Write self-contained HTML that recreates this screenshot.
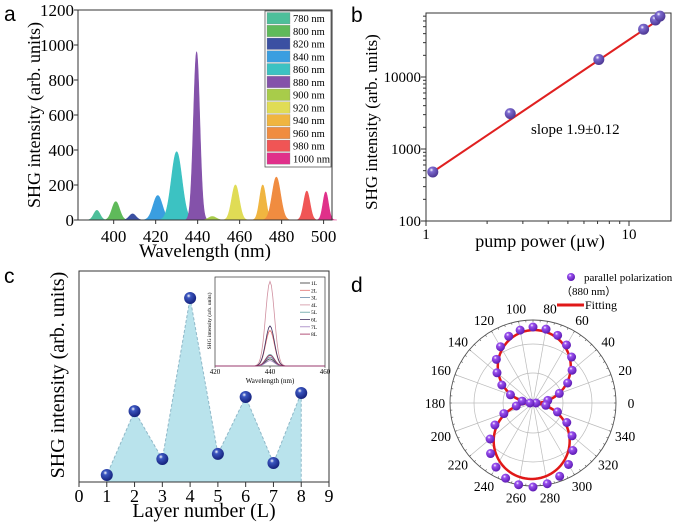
<!DOCTYPE html>
<html><head><meta charset="utf-8"><style>
body{margin:0;background:#fff}
svg{display:block;font-family:"Liberation Serif",serif}
svg text{font-family:"Liberation Serif",serif}
svg text.lt{font-family:"Liberation Sans",sans-serif;font-size:21px}
</style></head><body>
<svg id="fig" width="675" height="523" viewBox="0 0 675 523" font-family="Liberation Serif, serif">
<text class="lt" x="4" y="21">a</text>
<text class="lt" x="351" y="22">b</text>
<text class="lt" x="4" y="283">c</text>
<text class="lt" x="351" y="292">d</text>
<g id="pa"></g>
<g id="pb"></g>
<g id="pc"></g>
<g id="pd"></g>
</svg>
<script>
// ---------- Panel a data ----------
const aPumps=["780 nm","800 nm","820 nm","840 nm","860 nm","880 nm","900 nm","920 nm","940 nm","960 nm","980 nm","1000 nm"];
const aCenters=[392,401,409,421,430,439.5,447,458,471,477.5,492,501];
const aHeights=[55,105,35,140,390,960,20,200,200,245,165,160];
const aWidths=[1.5,1.8,1.6,2.2,2.5,1.5,1.8,1.8,1.5,2.0,1.5,1.3];
const aColors=["#4dbf9a","#5fba5a","#3b50a2","#3a9ee0","#3cc2c2","#8452aa","#a8cc4a","#e0dc55","#f0b540","#f08c40","#f05555","#e0308a"];
const aXTicks=[400,420,440,460,480,500];
const aYTicks=[0,200,400,600,800,1000,1200];
// ---------- Panel b data ----------
const bPower=[1.08,2.6,7.1,11.8,13.5,14.2];
const bIntensity=[480,3100,17500,46000,62000,70000];
const bFitX=[1.05,14.6];
const bSlope=1.9;
const bYTicks=[100,1000,10000];
const bXTicks=[1,10];
// ---------- Panel c data ----------
const cLayers=[1,2,3,4,5,6,7,8];
const cValues=[0.033,0.336,0.109,0.872,0.133,0.403,0.090,0.422];
const cXTicks=[0,1,2,3,4,5,6,7,8,9];
const cInsetLabels=["1L","2L","3L","4L","5L","6L","7L","8L"];
const cInsetHeights=[0.08,0.40,0.10,0.95,0.13,0.45,0.06,0.12];
const cInsetColors=["#333333","#e07070","#6a8aa8","#d090a0","#60a0a0","#403060","#a080c0","#a02858"];
// ---------- Panel d data ----------
const dAngles=[0,10,20,30,40,50,60,70,80,90,100,110,120,130,140,150,160,170,180,190,200,210,220,230,240,250,260,270,280,290,300,310,320,330,340,350];
const dValues=[3,15,28,40,51,60,67,72,75,76,74,71,65,57,47,36,24,11,3,17,31,44,56,66,74,80,83,84,82,78,71,62,51,39,26,13];
const dFitAmp=[73,76];
const dFitCenter=[88,268];
const dAngleTicks=[0,20,40,60,80,100,120,140,160,180,200,220,240,260,280,300,320,340];

const NS="http://www.w3.org/2000/svg";
function mk(parent,tag,attrs,text){const e=document.createElementNS(NS,tag);for(const k in attrs)e.setAttribute(k,attrs[k]);if(text!==undefined)e.textContent=text;parent.appendChild(e);return e;}
const defs=mk(document.getElementById('fig'),'defs',{});
function grad(id,c1,c2){const g=mk(defs,'radialGradient',{id:id,cx:'0.38',cy:'0.32',r:'0.7'});mk(g,'stop',{offset:'0','stop-color':'#ffffff'});mk(g,'stop',{offset:'0.25','stop-color':c1});mk(g,'stop',{offset:'1','stop-color':c2});}
grad('gb','#7d6bd0','#4b3590');grad('gc','#3b56c0','#14207a');grad('gd','#9a50f0','#5a18b0');

// ---------- Panel a ----------
(function(){
const g=document.getElementById('pa');
const L=78,R=332,T=10,B=220,x0=383,x1=504;
const xs=v=>L+(v-x0)/(x1-x0)*(R-L), ys=v=>B-v/1200*(B-T);
for(let i=0;i<aCenters.length;i++){
 let d='M'+xs(aCenters[i]-4*aWidths[i])+','+B;
 for(let k=-40;k<=40;k++){const w=aCenters[i]+k*aWidths[i]/10;const v=aHeights[i]*Math.exp(-0.5*Math.pow((w-aCenters[i])/aWidths[i],2));d+=' L'+xs(w).toFixed(2)+','+ys(v).toFixed(2);}
 d+=' L'+xs(aCenters[i]+4*aWidths[i])+','+B+'Z';
 const p=mk(g,'path',{d:d,fill:aColors[i],stroke:aColors[i],'stroke-width':0.6});
 
 
}
const f=mk(g,'rect',{x:L,y:T,width:R-L,height:B-T,fill:'none',stroke:'#333','stroke-width':1});

aXTicks.forEach(t=>{mk(g,'line',{x1:xs(t),x2:xs(t),y1:B,y2:B+4,stroke:'#333'});const tx=mk(g,'text',{x:xs(t),y:B+22,'text-anchor':'middle','font-size':17},t);});
aYTicks.forEach(t=>{mk(g,'line',{x1:L-4,x2:L,y1:ys(t),y2:ys(t),stroke:'#333'});const tx=mk(g,'text',{x:L-4,y:ys(t)+6,'text-anchor':'end','font-size':17},t);});
const xt=mk(g,'text',{x:205,y:257,'text-anchor':'middle','font-size':19},'Wavelength (nm)');
const yt=mk(g,'text',{x:0,y:0,'text-anchor':'middle','font-size':18,transform:'translate(40,115) rotate(-90)'},'SHG intensity (arb. units)');
const lg=mk(g,'g',{});
mk(lg,'rect',{x:265,y:11,width:66,height:156,fill:'#fff',stroke:'#555','stroke-width':0.8});
aPumps.forEach((n,i)=>{const y=12+i*12.75;const r=mk(lg,'rect',{x:267,y:y+0.5,width:23,height:11.5,fill:aColors[i],stroke:'#888','stroke-width':0.3});const t=mk(lg,'text',{x:293,y:y+10,'font-size':10.5},n);});
})();

// ---------- Panel b ----------
(function(){
const g=document.getElementById('pb');
const L=426,R=671,T=13,B=221;
const xs=v=>L+Math.log10(v)*203, ys=v=>B-(Math.log10(v)-2)*72;
mk(g,'rect',{x:L,y:T,width:R-L,height:B-T,fill:'none',stroke:'#333'});
for(let dcd=0;dcd<2;dcd++)for(let m=1;m<=9;m++){const v=m*Math.pow(10,dcd);const x=xs(v);if(x>R)break;mk(g,'line',{x1:x,x2:x,y1:B,y2:B+(m==1?5:3),stroke:'#333'});}
for(let dcd=2;dcd<5;dcd++)for(let m=1;m<=9;m++){const v=m*Math.pow(10,dcd);const y=ys(v);if(y<T)break;mk(g,'line',{x1:L-(m==1?5:3),x2:L,y1:y,y2:y,stroke:'#333'});}
bYTicks.forEach(t=>{const tx=mk(g,'text',{x:L-5,y:ys(t)+5,'text-anchor':'end','font-size':15},t);});
bXTicks.forEach(t=>{const tx=mk(g,'text',{x:xs(t),y:B+18,'text-anchor':'middle','font-size':15},t);});
const a0=bIntensity[0]/Math.pow(bPower[0],bSlope);
const fl=mk(g,'line',{x1:xs(bFitX[0]),y1:ys(a0*Math.pow(bFitX[0],bSlope)),x2:xs(bFitX[1]),y2:ys(a0*Math.pow(bFitX[1],bSlope)),stroke:'#e02020','stroke-width':2});

bPower.forEach((p,i)=>{const c=mk(g,'circle',{cx:xs(p),cy:ys(bIntensity[i]),r:5.5,fill:'url(#gb)'});});
const s=mk(g,'text',{x:531,y:134,'font-size':15},'slope 1.9±0.12');
const xt=mk(g,'text',{x:540,y:247,'text-anchor':'middle','font-size':18},'pump power (μw)');
const yt=mk(g,'text',{x:0,y:0,'text-anchor':'middle','font-size':17,transform:'translate(377,122) rotate(-90)'},'SHG intensity (arb. units)');
})();

// ---------- Panel c ----------
(function(){
const g=document.getElementById('pc');
const L=79,R=329,T=271,B=482;
const xs=v=>L+v/9*(R-L), ys=v=>B-v*(B-T);
let d='M'+xs(cLayers[0])+','+B;
cLayers.forEach((l,i)=>d+=' L'+xs(l)+','+ys(cValues[i]));
d+=' L'+xs(cLayers[cLayers.length-1])+','+B+'Z';
const ar=mk(g,'path',{d:d,fill:'#b9e3ec',stroke:'#8fb8c8','stroke-width':1,'stroke-dasharray':'3,2'});
mk(g,'polyline',{points:[[L,B],[L,T],[R,T],[R,B]].join(' '),fill:'none',stroke:'#333'});
mk(g,'line',{x1:L,x2:R,y1:B,y2:B,stroke:'#333'});
cXTicks.forEach(t=>{mk(g,'line',{x1:xs(t),x2:xs(t),y1:B,y2:B+5,stroke:'#333'});const tx=mk(g,'text',{x:xs(t),y:B+20,'text-anchor':'middle','font-size':18},t);});
cLayers.forEach((l,i)=>{const c=mk(g,'circle',{cx:xs(l),cy:ys(cValues[i]),r:6,fill:'url(#gc)'});});
const xt=mk(g,'text',{x:204,y:517,'text-anchor':'middle','font-size':20},'Layer number (L)');
const yt=mk(g,'text',{x:0,y:0,'text-anchor':'middle','font-size':20,transform:'translate(64,375) rotate(-90)'},'SHG intensity (arb. units)');
const ig=mk(g,'g',{});
const iL=215,iR=325,iT=277,iB=366;
const ix=v=>iL+(v-420)/40*(iR-iL), iy=v=>iB-v*(iB-iT);
mk(ig,'rect',{x:iL,y:iT,width:iR-iL,height:iB-iT,fill:'#fff',stroke:'#333','stroke-width':0.7});
cInsetHeights.forEach((h,i)=>{let pts=[];for(let k=0;k<=80;k++){const w=420+k*0.5;pts.push(ix(w).toFixed(2)+','+iy(h*Math.exp(-0.5*Math.pow((w-440)/1.6,2))).toFixed(2));}const pl=mk(ig,'polyline',{points:pts.join(' '),fill:'none',stroke:cInsetColors[i],'stroke-width':0.8});});
cInsetLabels.forEach((n,i)=>{const y=283+i*7.3;mk(ig,'line',{x1:300,x2:310,y1:y,y2:y,stroke:cInsetColors[i],'stroke-width':0.8});const t=mk(ig,'text',{x:311,y:y+2,'font-size':5.5},n);});
[420,440,460].forEach(t=>{mk(ig,'line',{x1:ix(t),x2:ix(t),y1:iB,y2:iB+2,stroke:'#333','stroke-width':0.6});const tx=mk(ig,'text',{x:ix(t),y:iB+8,'text-anchor':'middle','font-size':7},t);});
const it=mk(ig,'text',{x:270,y:383,'text-anchor':'middle','font-size':7},'Wavelength (nm)');
const iy2=mk(ig,'text',{x:0,y:0,'text-anchor':'middle','font-size':5.5,transform:'translate(211,321) rotate(-90)'},'SHG intensity (arb. units)');
})();

// ---------- Panel d ----------
(function(){
const g=document.getElementById('pd');
const cx=533,cy=403,R=83,scale=1;
const px=(a,r)=>cx+r*scale*Math.cos(a*Math.PI/180), py=(a,r)=>cy-r*scale*Math.sin(a*Math.PI/180);
[30,59].forEach(r=>mk(g,'circle',{cx:cx,cy:cy,r:r,fill:'none',stroke:'#bbb','stroke-width':0.7}));
dAngleTicks.forEach(a=>{mk(g,'line',{x1:cx,y1:cy,x2:cx+R*Math.cos(a*Math.PI/180),y2:cy-R*Math.sin(a*Math.PI/180),stroke:'#bbb','stroke-width':0.7});
 const t=mk(g,'text',{x:cx+(R+15)*Math.cos(a*Math.PI/180),y:cy-(R+13)*Math.sin(a*Math.PI/180)+5,'text-anchor':'middle','font-size':13.5},a);});
const oc=mk(g,'circle',{cx:cx,cy:cy,r:R,fill:'none',stroke:'#555','stroke-width':0.9});
for(let a=0;a<360;a+=5){mk(g,'line',{x1:cx+R*Math.cos(a*Math.PI/180),y1:cy-R*Math.sin(a*Math.PI/180),x2:cx+(R-2)*Math.cos(a*Math.PI/180),y2:cy-(R-2)*Math.sin(a*Math.PI/180),stroke:'#555','stroke-width':0.6});}
let pts=[];for(let a=0;a<=360;a+=2){const up=a<180;const amp=up?dFitAmp[0]:dFitAmp[1];const ctr=up?dFitCenter[0]:dFitCenter[1];const r=amp*Math.abs(Math.cos((a-ctr)*Math.PI/180));pts.push(px(a,r).toFixed(2)+','+py(a,r).toFixed(2));}
const fit=mk(g,'polyline',{points:pts.join(' '),fill:'none',stroke:'#e01818','stroke-width':2.5});
dAngles.forEach((a,i)=>{const c=mk(g,'circle',{cx:px(a,dValues[i]),cy:py(a,dValues[i]),r:4.5,fill:'url(#gd)'});});
const lg=mk(g,'g',{});
mk(lg,'circle',{cx:571,cy:277,r:4,fill:'url(#gd)'});
const t1=mk(lg,'text',{x:584,y:281,'font-size':11},'parallel polarization');
const t2=mk(lg,'text',{x:561,y:295,'font-size':11,'font-family':'"Liberation Serif","Noto Serif CJK SC",serif'},'（880 nm）');
mk(lg,'line',{x1:557,x2:584,y1:305,y2:305,stroke:'#e01818','stroke-width':3});
const t3=mk(lg,'text',{x:585,y:309,'font-size':12},'Fitting');
})();
</script>
</body></html>
